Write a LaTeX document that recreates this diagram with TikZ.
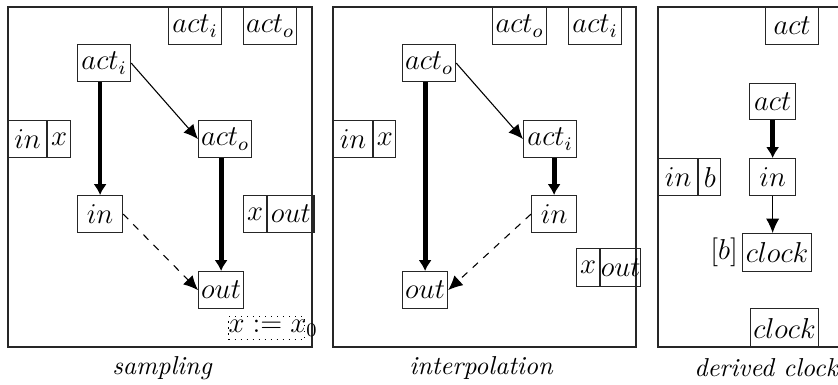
\documentclass[tikz,border=0pt]{standalone}
\usepackage{tikz}
\usetikzlibrary{arrows.meta, positioning}

\begin{document}
\begin{tikzpicture}[
    x=0.4167pt, y=-0.4167pt,
    frame/.style={draw=black!85, line width=0.5pt},
    cell/.style={rectangle, draw=black!85, line width=0.5pt, anchor=north west, inner sep=0pt, minimum height=15.4pt, font=\fontsize{11.5}{13}\selectfont},
    initbox/.style={rectangle, draw, dotted, line width=0.5pt, anchor=north west, inner sep=0pt, minimum width=31.7pt, minimum height=9.6pt, font=\fontsize{11.5}{13}\selectfont},
    caption/.style={font=\fontsize{10.8}{12}\selectfont\itshape},
    arrow/.style={-{Latex[length=6pt, width=5.5pt]}, line width=0.45pt},
    heavy/.style={-{Latex[length=4.5pt, width=5.5pt]}, line width=2pt},
    dasharrow/.style={arrow, dashed}
]

\clip (0,0) rectangle (838,384);

% Sampling panel
\draw [frame] (8,7) rectangle (312,347);
\node (s-acti-top) [cell, minimum width=22.1pt] at (168,7) {$act_i$};
\node (s-acto-top) [cell, minimum width=22.1pt] at (243,7) {$act_o$};
\node (s-acti) [cell, minimum width=22.1pt] at (77,44) {$act_i$};
\node (s-acto) [cell, minimum width=22.1pt] at (198,120) {$act_o$};
\node (s-in) [cell, minimum width=18.75pt] at (77,195) {$in$};
\node (s-out) [cell, minimum width=18.75pt] at (198,271) {$out$};
\node (s-port-in) [cell, minimum width=15.8pt] at (8,120) {$in$};
\node (s-port-x) [cell, minimum width=9.6pt, right=0pt of s-port-in] {$x$};
\node (s-mem-x) [cell, minimum width=9.6pt] at (243,195) {$x$};
\node (s-mem-out) [cell, minimum width=19.2pt, right=0pt of s-mem-x] {$out$};
\node (s-init) [initbox] at (228,316) {\makebox[31.7pt][l]{$x := x_0$}};
\node (s-cap) [caption] at (162,368) {sampling};

\draw [heavy] (s-acti.south -| s-in.north) -- (s-in.north);
\draw [arrow] (s-acti.east) -- (s-acto.west);
\draw [heavy] (s-acto.south -| s-out.north) -- (s-out.north);
\draw [dasharrow] (s-in.east) -- (s-out.west);

% Interpolation panel
\draw [frame] (333,7) rectangle (636,347);
\node (p-acto-top) [cell, minimum width=22.5pt] at (492,7) {$act_o$};
\node (p-acti-top) [cell, minimum width=22.1pt] at (568,7) {$act_i$};
\node (p-acto) [cell, minimum width=22.1pt] at (402,44) {$act_o$};
\node (p-acti) [cell, minimum width=22.1pt] at (523,120) {$act_i$};
\node (p-in) [cell, minimum width=18.75pt] at (531,195) {$in$};
\node (p-out) [cell, minimum width=18.75pt] at (402,271) {$out$};
\node (p-port-in) [cell, minimum width=16.25pt] at (333,120) {$in$};
\node (p-port-x) [cell, minimum width=9.2pt, right=0pt of p-port-in] {$x$};
\node (p-mem-x) [cell, minimum width=9.6pt, minimum height=15.8pt] at (576,248) {$x$};
\node (p-mem-out) [cell, minimum width=15.4pt, minimum height=15.8pt, right=0pt of p-mem-x] {$out$};
\node (p-cap) [caption] at (481,368) {interpolation};

\draw [heavy] (p-acto.south -| p-out.north) -- (p-out.north);
\draw [arrow] (p-acto.east) -- (p-acti.west);
\draw [heavy] (p-acti.south -| p-in.north) -- (p-in.north);
\draw [dasharrow] (p-in.west) -- (p-out.east);

% Derived clock panel
\draw [frame] (658,7) rectangle (860,347);
\node (d-act-top) [cell, minimum width=22.1pt] at (765,7) {$act$};
\node (d-act) [cell, minimum width=19.2pt, minimum height=15pt] at (749,83) {$act$};
\node (d-in) [cell, minimum width=19.2pt] at (749,158) {$in$};
\node (d-port-in) [cell, minimum width=16.25pt] at (658,158) {$in$};
\node (d-port-b) [cell, minimum width=9.2pt, right=0pt of d-port-in] {$b$};
\node (d-clock) [cell, minimum width=28.75pt, minimum height=15.8pt, label={[inner sep=1.5pt, font=\fontsize{11.5}{13}\selectfont]left:$[b]$}] at (742,233) {$clock$};
\node (d-clock-bot) [cell, minimum width=28.3pt, minimum height=16.25pt] at (750,308) {$clock$};
\node (d-cap) [caption] at (766,368) {derived clock};

\draw [heavy] (d-act.south) -- (d-in.north);
\draw [arrow] (d-in.south) -- (d-in.south |- d-clock.north);

\end{tikzpicture}
\end{document}
